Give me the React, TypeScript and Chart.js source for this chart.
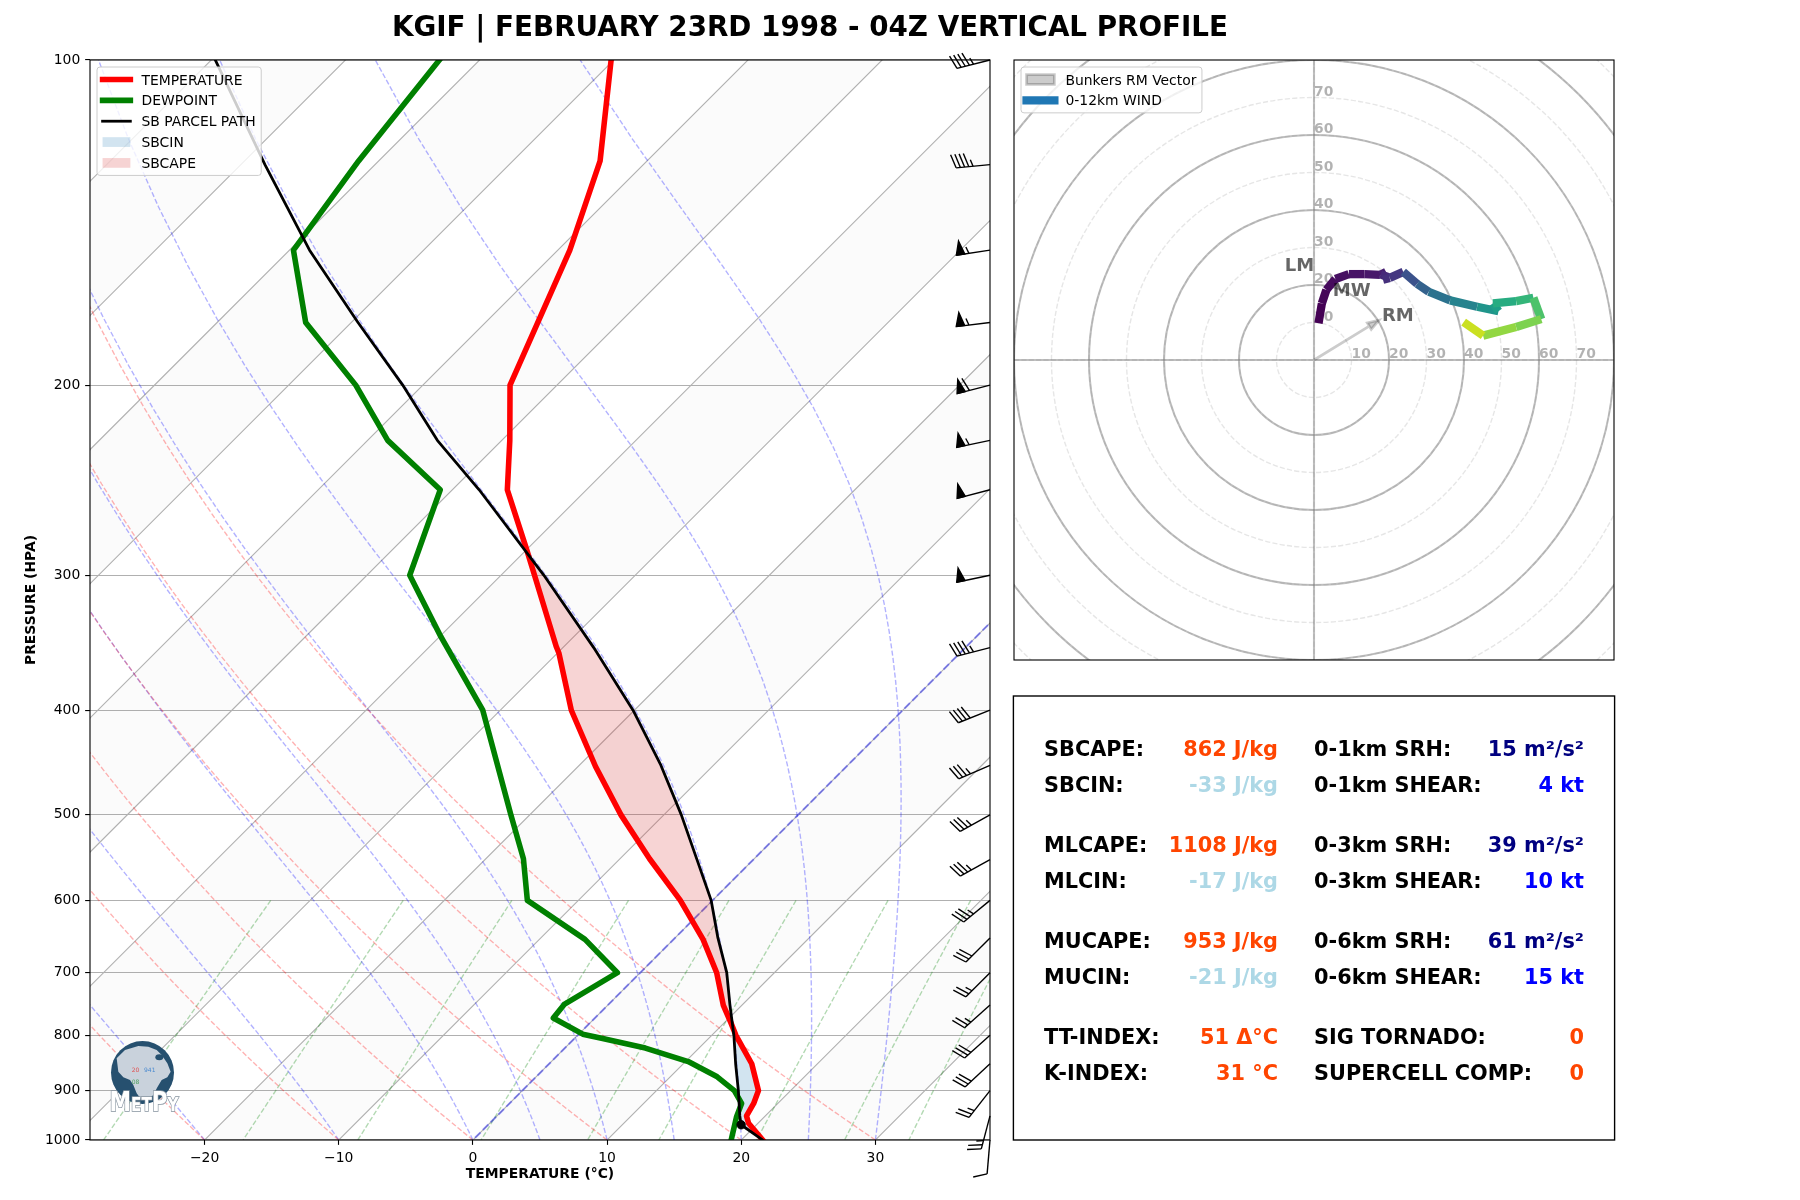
import React, { useEffect, useRef } from 'react';
import { Chart, registerables } from 'chart.js';

Chart.register(...registerables);
Chart.defaults.font.family = '"DejaVu Sans", sans-serif';

// ---------------- DATA ----------------
// Environmental temperature profile (hPa, °C)
const TEMP_P = [1000, 965, 950, 925, 900, 850, 800, 779, 750, 700, 652, 600, 549, 500, 451, 400, 354, 349, 300, 284, 250, 225, 200, 150, 124, 100];
const TEMP_C = [21.6, 19.3, 18.6, 18.2, 17.6, 15.1, 11.8, 10.5, 8.6, 5.7, 2.2, -2.4, -7.8, -13.2, -18.7, -24.7, -29.9, -30.6, -37.5, -40.0, -45.9, -49.4, -53.5, -59.1, -63.5, -70.2];

// Dewpoint profile (hPa, °C)
const DEW_P = [1000, 951, 925, 900, 874, 846, 822, 805, 798, 771, 749, 700, 652, 600, 549, 500, 400, 342, 300, 250, 225, 200, 175, 150, 124, 100];
const DEW_C = [19.25, 17.9, 17.3, 15.8, 13.5, 10.2, 6.0, 2.0, 0.3, -3.1, -3.3, -1.7, -6.6, -13.8, -17.2, -21.4, -31.3, -39.9, -46.8, -50.9, -58.5, -65.0, -73.4, -79.7, -81.5, -83.0];

// Surface-based parcel path (hPa, °C)
const PARCEL_P = [1000, 968, 950, 900, 850, 800, 750, 700, 650, 600, 550, 500, 450, 400, 350, 300, 250, 225, 200, 175, 150, 125, 100];
const PARCEL_C = [21.6, 18.85, 18.1, 16.1, 13.9, 11.65, 9.1, 6.45, 3.2, -0.1, -4.2, -8.7, -13.9, -20.1, -27.7, -36.8, -48.0, -54.8, -61.5, -69.5, -78.5, -88.2, -99.7];

// LCL
const LCL_P = 968;
const LCL_C = 18.85;

// Wind barbs (hPa, kt)
const BARB_P = [100, 125, 150, 175, 200, 225, 250, 300, 350, 400, 450, 500, 550, 600, 650, 700, 750, 800, 850, 900, 950, 1000];
const BARB_U = [43.6, 44.8, 54.4, 54.6, 58.1, 53.8, 48.4, 48.9, 43.6, 37.2, 32.2, 30.6, 30.6, 27.0, 21.2, 17.7, 18.6, 22.4, 22.0, 15.4, 6.4, 0.85];
const BARB_V = [11.0, 4.2, 8.2, 6.6, 15.1, 11.3, 12.6, 10.2, 11.2, 14.7, 13.7, 17.0, 17.0, 22.2, 21.2, 17.7, 16.6, 20.0, 20.4, 19.7, 24.2, 10.0];

// Hodograph 0-12 km wind (kt) and height (km)
const HODO_U = [1.2, 2.1, 3.3, 5.7, 9.3, 13.5, 17.6, 19.2, 18.4, 20.2, 23.8, 27.5, 30.6, 36.3, 43.5, 49.2, 47.7, 53.9, 58.5, 60.6, 53.9, 45.1, 39.9];
const HODO_V = [9.8, 15.1, 18.7, 21.6, 22.9, 22.9, 22.7, 23.5, 21.4, 21.9, 23.5, 20.3, 18.2, 15.9, 14.2, 13.0, 15.1, 15.7, 16.6, 10.9, 8.8, 6.5, 10.1];
const HODO_Z = [0, 0.15, 0.3, 0.45, 0.6, 0.75, 1.0, 1.4, 1.6, 1.9, 3.0, 3.7, 4.5, 5.3, 6.2, 6.7, 7.4, 7.9, 8.6, 9.6, 10.0, 11.0, 12.0];

// Bunkers storm motions (kt)
const STORM_LABELS = ['RM', 'LM', 'MW'];
const STORM_U = [17.6, -8.3, 4.5];
const STORM_V = [10.9, 24.3, 17.7];

// Axis ticks / labels
const PRESSURE_TICKS = [100, 200, 300, 400, 500, 600, 700, 800, 900, 1000];
const TEMP_TICKS = [-20, -10, 0, 10, 20, 30];
const HODO_RING_LABELS = [10, 20, 30, 40, 50, 60, 70];

// Thermodynamic reference lines
const ISOTHERMS = [-110, -100, -90, -80, -70, -60, -50, -40, -30, -20, -10, 0, 10, 20, 30, 40];
const SHADE_X1 = [-100, -80, -60, -40, -20, 0, 20, 40];
const DRY_ADIABAT_T0 = [-20, -10, 0, 10, 20, 30];
const MOIST_ADIABAT_T0 = [-20, -10, 0, 5, 10, 15, 20, 25, 30];
const MIXING_RATIOS = [0.0004, 0.001, 0.002, 0.004, 0.007, 0.01, 0.016, 0.024, 0.032];

// Stats panel
const ORANGE = '#ff4500', LIGHTBLUE = '#add8e6', NAVY = '#000080', BLUE = '#0000ff';
const STAT_LEFT_LABELS = ['SBCAPE:', 'SBCIN:', 'MLCAPE:', 'MLCIN:', 'MUCAPE:', 'MUCIN:', 'TT-INDEX:', 'K-INDEX:'];
const STAT_LEFT_VALUES = ['862 J/kg', '-33 J/kg', '1108 J/kg', '-17 J/kg', '953 J/kg', '-21 J/kg', '51 Δ°C', '31 °C'];
const STAT_LEFT_COLORS = [ORANGE, LIGHTBLUE, ORANGE, LIGHTBLUE, ORANGE, LIGHTBLUE, ORANGE, ORANGE];
const STAT_RIGHT_LABELS = ['0-1km SRH:', '0-1km SHEAR:', '0-3km SRH:', '0-3km SHEAR:', '0-6km SRH:', '0-6km SHEAR:', 'SIG TORNADO:', 'SUPERCELL COMP:'];
const STAT_RIGHT_VALUES = ['15 m²/s²', '4 kt', '39 m²/s²', '10 kt', '61 m²/s²', '15 kt', '0', '0'];
const STAT_RIGHT_COLORS = [NAVY, BLUE, NAVY, BLUE, NAVY, BLUE, ORANGE, ORANGE];
const STAT_ROW_FRAC = [0.37, 0.34, 0.29, 0.26, 0.21, 0.18, 0.13, 0.10];

const TITLE = 'KGIF | FEBRUARY 23RD 1998 - 04Z VERTICAL PROFILE';

// ---------------- helpers ----------------
const PT = 100 / 72;
const GRID_COLOR = '#b0b0b0';
const SKEW_K = 80.5; // °C of skew per decade of pressure (45° rotation)
const X_MIN = 5 - 33.54;
const X_MAX = 5 + 33.54;
const FONT = '"DejaVu Sans", sans-serif';

const skx = (t: number, p: number) => t + SKEW_K * Math.log10(1000 / p);

function linspace(a: number, b: number, n: number) {
  const out: number[] = [];
  for (let i = 0; i < n; i++) out.push(a + ((b - a) * i) / (n - 1));
  return out;
}

function interpLogP(P: number[], V: number[], p: number) {
  for (let i = 0; i < P.length - 1; i++) {
    if (p <= P[i] && p >= P[i + 1]) {
      const f = (Math.log(P[i]) - Math.log(p)) / (Math.log(P[i]) - Math.log(P[i + 1]));
      return V[i] + f * (V[i + 1] - V[i]);
    }
  }
  return NaN;
}

function moistAdiabat(t0c: number, pressures: number[]) {
  const Rd = 287.04749, Cp = 1004.6662, Lv = 2.50084e6, eps = 0.6219569;
  const f = (p: number, tK: number) => {
    const tc = tK - 273.15;
    const es = 6.112 * Math.exp((17.67 * tc) / (tc + 243.5));
    const rs = (eps * es) / (p - es);
    return (Rd * tK + Lv * rs) / (Cp + (Lv * Lv * rs * eps) / (Rd * tK * tK)) / p;
  };
  const out: number[] = [];
  let p = 1000;
  let t = t0c + 273.15;
  for (const target of pressures) {
    while (p - target > 1e-9) {
      const h = -Math.min(2, p - target);
      const k1 = f(p, t);
      const k2 = f(p + h / 2, t + (h / 2) * k1);
      const k3 = f(p + h / 2, t + (h / 2) * k2);
      const k4 = f(p + h, t + h * k3);
      t += (h / 6) * (k1 + 2 * k2 + 2 * k3 + k4);
      p += h;
    }
    out.push(t - 273.15);
  }
  return out;
}

function mixingDewpoint(w: number, p: number) {
  const e = (p * w) / (0.6219569 + w);
  const l = Math.log(e / 6.112);
  return (243.5 * l) / (17.67 - l);
}

const VIRIDIS = ['#440154', '#48186a', '#472d7b', '#424086', '#3b528b', '#33638d', '#2c728e', '#26828e', '#21918c', '#1fa088', '#28ae80', '#3fbc73', '#5ec962', '#84d44b', '#addc30', '#d8e219', '#fde725'];
function viridis(t: number) {
  const n = VIRIDIS.length - 1;
  const x = Math.max(0, Math.min(1, t)) * n;
  const i = Math.min(n - 1, Math.floor(x));
  const f = x - i;
  const a = VIRIDIS[i], b = VIRIDIS[i + 1];
  const c = (s: string, k: number) => parseInt(s.slice(1 + 2 * k, 3 + 2 * k), 16);
  const r = Math.round(c(a, 0) + f * (c(b, 0) - c(a, 0)));
  const g = Math.round(c(a, 1) + f * (c(b, 1) - c(a, 1)));
  const bl = Math.round(c(a, 2) + f * (c(b, 2) - c(a, 2)));
  return `rgb(${r},${g},${bl})`;
}

function lineDS(points: any[], color: string, width: number, dash: number[], order: number, label = '', cap = 'butt') {
  return {
    label,
    data: points,
    showLine: true,
    borderColor: color,
    backgroundColor: color,
    borderWidth: width,
    borderDash: dash,
    pointRadius: 0,
    pointHoverRadius: 0,
    pointHitRadius: 0,
    fill: false,
    order,
    clip: 0,
    tension: 0,
    borderJoinStyle: 'round',
    borderCapStyle: cap,
  };
}

// CAPE / CIN regions
function buildRegions() {
  const levels = Array.from(new Set([...TEMP_P, ...PARCEL_P])).sort((a, b) => b - a);
  const diff = levels.map((p) => interpLogP(PARCEL_P, PARCEL_C, p) - interpLogP(TEMP_P, TEMP_C, p));
  const cross: number[] = [];
  for (let i = 1; i < levels.length - 1; i++) {
    const d0 = diff[i], d1 = diff[i + 1];
    if (d0 * d1 < 0) {
      const f = d0 / (d0 - d1);
      const lp = Math.log(levels[i]) + f * (Math.log(levels[i + 1]) - Math.log(levels[i]));
      cross.push(Math.exp(lp));
    }
  }
  const lfc = cross[0];
  const el = cross[1];
  const seg = (P: number[], C: number[], hi: number, lo: number) => {
    const pts = [{ p: hi, t: interpLogP(P, C, hi) }];
    P.forEach((p, i) => {
      if (p < hi && p > lo) pts.push({ p, t: C[i] });
    });
    pts.push({ p: lo, t: interpLogP(P, C, lo) });
    return pts;
  };
  const cin = [...seg(PARCEL_P, PARCEL_C, 1000, lfc), ...seg(TEMP_P, TEMP_C, 1000, lfc).reverse()];
  const cape = [...seg(PARCEL_P, PARCEL_C, lfc, el), ...seg(TEMP_P, TEMP_C, lfc, el).reverse()];
  return { cin, cape };
}
const REGIONS = buildRegions();

function polyPath(chart: any, ctx: CanvasRenderingContext2D, pts: { x: number; y: number }[]) {
  const xs = chart.scales.x, ys = chart.scales.y;
  ctx.beginPath();
  pts.forEach((pt, i) => {
    const X = xs.getPixelForValue(pt.x);
    const Y = ys.getPixelForValue(pt.y);
    if (i === 0) ctx.moveTo(X, Y);
    else ctx.lineTo(X, Y);
  });
  ctx.closePath();
}

function clipArea(ctx: CanvasRenderingContext2D, a: any) {
  ctx.beginPath();
  ctx.rect(a.left, a.top, a.right - a.left, a.bottom - a.top);
  ctx.clip();
}

const BARB_LEN = 34.03;
function drawBarb(ctx: CanvasRenderingContext2D, x0: number, y0: number, u: number, v: number) {
  const L = BARB_LEN;
  const spacing = 0.125 * L, fh = 0.4 * L, fw = 0.25 * L;
  const spd = Math.hypot(u, v);
  let mag = 5 * Math.round(spd / 5);
  const nflags = Math.floor(mag / 50);
  mag -= nflags * 50;
  const nbarbs = Math.floor(mag / 10);
  mag -= nbarbs * 10;
  const half = mag >= 5;
  const dx = -u / spd, dy = v / spd;
  const nx = -v / spd, ny = -u / spd;
  const pt = (s: number, h: number): [number, number] => [x0 + dx * s + nx * h, y0 + dy * s + ny * h];
  ctx.beginPath();
  ctx.moveTo(x0, y0);
  const e = pt(L, 0);
  ctx.lineTo(e[0], e[1]);
  ctx.stroke();
  let offset = L;
  for (let i = 0; i < nflags; i++) {
    if (offset !== L) offset += spacing / 2;
    const a = pt(offset, 0), b = pt(offset - fw / 2, fh), c = pt(offset - fw, 0);
    ctx.beginPath();
    ctx.moveTo(a[0], a[1]);
    ctx.lineTo(b[0], b[1]);
    ctx.lineTo(c[0], c[1]);
    ctx.closePath();
    ctx.fill();
    ctx.stroke();
    offset -= fw + spacing;
  }
  for (let i = 0; i < nbarbs; i++) {
    const a = pt(offset, 0), b = pt(offset + fw / 2, fh);
    ctx.beginPath();
    ctx.moveTo(a[0], a[1]);
    ctx.lineTo(b[0], b[1]);
    ctx.stroke();
    offset -= spacing;
  }
  if (half) {
    if (offset === L) offset -= 1.5 * spacing;
    const a = pt(offset, 0), b = pt(offset + fw / 4, fh / 2);
    ctx.beginPath();
    ctx.moveTo(a[0], a[1]);
    ctx.lineTo(b[0], b[1]);
    ctx.stroke();
  }
}

function roundRect(ctx: CanvasRenderingContext2D, x: number, y: number, w: number, h: number, r: number) {
  ctx.beginPath();
  ctx.moveTo(x + r, y);
  ctx.lineTo(x + w - r, y);
  ctx.arcTo(x + w, y, x + w, y + r, r);
  ctx.lineTo(x + w, y + h - r);
  ctx.arcTo(x + w, y + h, x + w - r, y + h, r);
  ctx.lineTo(x + r, y + h);
  ctx.arcTo(x, y + h, x, y + h - r, r);
  ctx.lineTo(x, y + r);
  ctx.arcTo(x, y, x + r, y, r);
  ctx.closePath();
}

type Handle = { kind: 'line' | 'patch'; color: string; width?: number; edge?: string; edgeWidth?: number };
function drawLegend(ctx: CanvasRenderingContext2D, x0: number, y0: number, labels: string[], handles: Handle[]) {
  const fs = 13.9;
  ctx.save();
  ctx.font = `${fs}px ${FONT}`;
  const pad = 0.4 * fs, hl = 2 * fs, htp = 0.8 * fs, ls = 0.5 * fs;
  const maxW = Math.max(...labels.map((l) => ctx.measureText(l).width));
  const w = pad + hl + htp + maxW + pad;
  const h = 2 * pad + labels.length * fs + (labels.length - 1) * ls;
  roundRect(ctx, x0, y0, w, h, 3);
  ctx.fillStyle = 'rgba(255,255,255,0.8)';
  ctx.fill();
  ctx.strokeStyle = '#cccccc';
  ctx.lineWidth = 1;
  ctx.stroke();
  labels.forEach((l, i) => {
    const cy = y0 + pad + fs / 2 + i * (fs + ls);
    const hx = x0 + pad;
    const hd = handles[i];
    if (hd.kind === 'line') {
      ctx.beginPath();
      ctx.moveTo(hx, cy);
      ctx.lineTo(hx + hl, cy);
      ctx.strokeStyle = hd.color;
      ctx.lineWidth = hd.width || 1;
      ctx.lineCap = 'square';
      ctx.stroke();
      ctx.lineCap = 'butt';
    } else {
      const ph = 0.7 * fs;
      ctx.fillStyle = hd.color;
      ctx.fillRect(hx, cy - ph / 2, hl, ph);
      if (hd.edge) {
        ctx.strokeStyle = hd.edge;
        ctx.lineWidth = hd.edgeWidth || 1;
        ctx.strokeRect(hx, cy - ph / 2, hl, ph);
      }
    }
    ctx.fillStyle = '#000';
    ctx.textAlign = 'left';
    ctx.textBaseline = 'alphabetic';
    ctx.fillText(l, hx + hl + htp, cy + 0.36 * fs);
  });
  ctx.restore();
}

function drawLogo(ctx: CanvasRenderingContext2D) {
  const cx = 142.5, cy = 1072.5, r = 31.5;
  const Z = (zx: number, zy: number): [number, number] => [80 + zx / 3, 1000 + zy / 3];
  ctx.save();
  ctx.beginPath();
  ctx.arc(cx, cy, r, 0, Math.PI * 2);
  ctx.fillStyle = '#26506f';
  ctx.fill();
  ctx.save();
  ctx.clip();
  const land: [number, number][] = [
    [110, 175], [135, 150], [175, 138], [205, 140], [230, 150], [245, 165], [262, 190], [272, 215], [262, 232],
    [245, 240], [232, 262], [220, 285], [205, 298], [185, 300], [170, 280], [160, 255], [150, 240], [130, 232], [115, 215],
  ];
  ctx.beginPath();
  land.forEach((q, i) => {
    const [X, Y] = Z(q[0], q[1]);
    if (i === 0) ctx.moveTo(X, Y);
    else ctx.lineTo(X, Y);
  });
  ctx.closePath();
  ctx.fillStyle = '#c9d2dc';
  ctx.fill();
  ctx.fillStyle = '#26506f';
  ctx.beginPath();
  const [lx, ly] = Z(238, 172);
  ctx.ellipse(lx, ly, 4, 3, 0, 0, Math.PI * 2);
  ctx.fill();
  ctx.font = `6px ${FONT}`;
  ctx.fillStyle = '#e05050';
  ctx.fillText('20', Z(155, 215)[0], Z(155, 215)[1]);
  ctx.fillStyle = '#4a8ad0';
  ctx.fillText('941', Z(192, 215)[0], Z(192, 215)[1]);
  ctx.fillStyle = '#50a060';
  ctx.fillText('08', Z(155, 252)[0], Z(155, 252)[1]);
  ctx.restore();
  // MetPy word mark
  ctx.translate(109.5, 1111);
  ctx.scale(0.8, 1);
  ctx.lineWidth = 1.6;
  ctx.strokeStyle = '#8794a0';
  ctx.fillStyle = '#ffffff';
  ctx.textBaseline = 'alphabetic';
  ctx.textAlign = 'left';
  let x = 0;
  const parts: [string, number][] = [['M', 27], ['ET', 19], ['P', 27], ['Y', 19]];
  parts.forEach(([s, size]) => {
    ctx.font = `bold ${size}px ${FONT}`;
    ctx.strokeText(s, x, 0);
    ctx.fillText(s, x, 0);
    x += ctx.measureText(s).width;
  });
  ctx.restore();
}

// ---------------- Skew-T plugin ----------------
const skewPlugin = {
  id: 'skewExtras',
  beforeDatasetsDraw(chart: any) {
    const { ctx, chartArea: a } = chart;
    ctx.save();
    clipArea(ctx, a);
    ctx.fillStyle = 'rgba(128,128,128,0.03)';
    SHADE_X1.forEach((x1) => {
      const x2 = x1 + 10;
      polyPath(chart, ctx, [
        { x: skx(x1, 1100), y: 1100 },
        { x: skx(x1, 50), y: 50 },
        { x: skx(x2, 50), y: 50 },
        { x: skx(x2, 1100), y: 1100 },
      ]);
      ctx.fill();
    });
    ctx.restore();
  },
  beforeDatasetDraw(chart: any, args: any) {
    const ds = chart.data.datasets[args.index];
    if (ds.label !== 'TEMPERATURE') return;
    const { ctx, chartArea: a } = chart;
    ctx.save();
    clipArea(ctx, a);
    ctx.fillStyle = 'rgba(31,119,180,0.2)';
    polyPath(chart, ctx, REGIONS.cin.map((q) => ({ x: skx(q.t, q.p), y: q.p })));
    ctx.fill();
    ctx.fillStyle = 'rgba(214,39,40,0.2)';
    polyPath(chart, ctx, REGIONS.cape.map((q) => ({ x: skx(q.t, q.p), y: q.p })));
    ctx.fill();
    ctx.restore();
  },
  afterDatasetsDraw(chart: any) {
    const { ctx, chartArea: a, scales } = chart;
    ctx.save();
    // spines
    ctx.strokeStyle = '#000';
    ctx.lineWidth = 0.8 * PT;
    ctx.strokeRect(a.left, a.top, a.right - a.left, a.bottom - a.top);
    // wind barbs
    ctx.lineWidth = PT;
    ctx.strokeStyle = '#000';
    ctx.fillStyle = '#000';
    ctx.lineJoin = 'miter';
    BARB_P.forEach((p, i) => {
      drawBarb(ctx, a.right, scales.y.getPixelForValue(p), BARB_U[i], BARB_V[i]);
    });
    ctx.restore();
    drawLegend(ctx, a.left + 7, a.top + 7, ['TEMPERATURE', 'DEWPOINT', 'SB PARCEL PATH', 'SBCIN', 'SBCAPE'], [
      { kind: 'line', color: '#ff0000', width: 4 * PT },
      { kind: 'line', color: '#008000', width: 4 * PT },
      { kind: 'line', color: '#000000', width: 2 * PT },
      { kind: 'patch', color: 'rgba(31,119,180,0.2)' },
      { kind: 'patch', color: 'rgba(214,39,40,0.2)' },
    ]);
    drawLogo(ctx);
  },
};

function skewConfig(): any {
  const datasets: any[] = [];
  // isotherm grid
  ISOTHERMS.forEach((t) => {
    datasets.push(lineDS([{ x: skx(t, 1100), y: 1100 }, { x: skx(t, 90), y: 90 }], GRID_COLOR, 0.8 * PT, [], 30));
  });
  const pAll = linspace(1000, 100, 50);
  const dash1 = [3.7 * PT, 1.6 * PT];
  // dry adiabats
  DRY_ADIABAT_T0.forEach((t0) => {
    const pts = pAll.map((p) => {
      const t = (t0 + 273.15) * Math.pow(p / 1000, 0.28571) - 273.15;
      return { x: skx(t, p), y: p };
    });
    datasets.push(lineDS(pts, 'rgba(255,0,0,0.3)', PT, dash1, 20));
  });
  // moist adiabats
  MOIST_ADIABAT_T0.forEach((t0) => {
    const ts = moistAdiabat(t0, pAll);
    datasets.push(lineDS(pAll.map((p, i) => ({ x: skx(ts[i], p), y: p })), 'rgba(0,0,255,0.3)', PT, dash1, 20));
  });
  // mixing ratio lines
  const pMix = linspace(600, 1000, 50);
  MIXING_RATIOS.forEach((w) => {
    datasets.push(lineDS(pMix.map((p) => ({ x: skx(mixingDewpoint(w, p), p), y: p })), 'rgba(0,128,0,0.3)', PT, dash1, 20));
  });
  // 0 °C isotherm
  datasets.push(lineDS([{ x: skx(0, 1100), y: 1100 }, { x: skx(0, 50), y: 50 }], 'rgba(0,0,255,0.38)', 1.5 * PT, [3.7 * 1.5 * PT, 1.6 * 1.5 * PT], 15));
  // profiles
  datasets.push(lineDS(TEMP_P.map((p, i) => ({ x: skx(TEMP_C[i], p), y: p })), '#ff0000', 4 * PT, [], 3, 'TEMPERATURE', 'square'));
  datasets.push(lineDS(DEW_P.map((p, i) => ({ x: skx(DEW_C[i], p), y: p })), '#008000', 4 * PT, [], 2, 'DEWPOINT', 'square'));
  datasets.push(lineDS(PARCEL_P.map((p, i) => ({ x: skx(PARCEL_C[i], p), y: p })), '#000000', 2 * PT, [], 1, 'SB PARCEL PATH', 'square'));
  datasets.push({
    label: 'LCL',
    data: [{ x: skx(LCL_C, LCL_P), y: LCL_P }],
    showLine: false,
    pointRadius: 4.2,
    pointBackgroundColor: '#000',
    pointBorderColor: '#000',
    pointBorderWidth: 1,
    order: 0,
  });

  return {
    type: 'scatter',
    data: { datasets },
    options: {
      responsive: false,
      animation: false,
      devicePixelRatio: 1,
      events: [],
      layout: { padding: { left: 0, top: 60, right: 20, bottom: 0 } },
      scales: {
        x: {
          type: 'linear',
          min: X_MIN,
          max: X_MAX,
          afterFit: (s: any) => {
            s.height = 60;
          },
          afterBuildTicks: (s: any) => {
            s.ticks = TEMP_TICKS.map((v) => ({ value: v }));
          },
          ticks: {
            autoSkip: false,
            maxRotation: 0,
            padding: 3.5 * PT,
            color: '#000',
            font: { size: 13.9 },
            callback: (v: number) => (v < 0 ? '\u2212' + Math.abs(v) : String(v)),
          },
          grid: { display: true, drawOnChartArea: false, drawTicks: true, tickLength: 3.5 * PT, tickColor: '#000', tickWidth: 0.8 * PT },
          border: { display: false },
          title: { display: true, text: 'TEMPERATURE (°C)', color: '#000', font: { size: 13.9, weight: 'bold' }, padding: { top: 0, bottom: 17.2 } },
        },
        y: {
          type: 'logarithmic',
          position: 'left',
          reverse: true,
          min: 100,
          max: 1000,
          afterFit: (s: any) => {
            s.width = 90;
          },
          afterBuildTicks: (s: any) => {
            s.ticks = PRESSURE_TICKS.map((v) => ({ value: v }));
          },
          ticks: { autoSkip: false, padding: 3.5 * PT, color: '#000', font: { size: 13.9 }, callback: (v: number) => String(v) },
          grid: { color: GRID_COLOR, lineWidth: 0.8 * PT, drawTicks: true, tickLength: 3.5 * PT, tickColor: '#000', tickWidth: 0.8 * PT },
          border: { display: false },
          title: { display: true, text: 'PRESSURE (HPA)', color: '#000', font: { size: 13.9, weight: 'bold' }, padding: { top: 22.7, bottom: 0 } },
        },
      },
      plugins: { legend: { display: false }, tooltip: { enabled: false }, title: { display: false } },
    },
    plugins: [skewPlugin],
  };
}

// ---------------- Hodograph ----------------
const HODO_RANGE = 80;
const hodoPlugin = {
  id: 'hodoExtras',
  beforeDatasetsDraw(chart: any) {
    const { ctx, chartArea: a, scales } = chart;
    const xs = scales.x, ys = scales.y;
    const cx = xs.getPixelForValue(0), cy = ys.getPixelForValue(0);
    const k = xs.getPixelForValue(1) - cx;
    ctx.save();
    clipArea(ctx, a);
    // labels
    ctx.font = `bold 13.9px ${FONT}`;
    ctx.fillStyle = 'rgba(0,0,0,0.3)';
    ctx.textAlign = 'left';
    ctx.textBaseline = 'alphabetic';
    HODO_RING_LABELS.forEach((v) => {
      ctx.fillText(String(v), xs.getPixelForValue(v), cy - 2);
      ctx.fillText(String(v), cx, ys.getPixelForValue(v) - 2);
    });
    // solid rings
    ctx.strokeStyle = 'rgba(128,128,128,0.5)';
    ctx.lineWidth = 1.5 * PT;
    for (let r = 20; r < 2 * HODO_RANGE; r += 20) {
      ctx.beginPath();
      ctx.arc(cx, cy, r * k, 0, Math.PI * 2);
      ctx.stroke();
    }
    // dashed rings
    ctx.strokeStyle = 'rgba(128,128,128,0.2)';
    ctx.lineWidth = PT;
    ctx.setLineDash([3.7 * PT, 1.6 * PT]);
    for (let r = 10; r < 2 * HODO_RANGE; r += 10) {
      ctx.beginPath();
      ctx.arc(cx, cy, r * k, 0, Math.PI * 2);
      ctx.stroke();
    }
    ctx.setLineDash([]);
    // axis lines (solid then dashed)
    ctx.strokeStyle = 'rgba(128,128,128,0.5)';
    ctx.lineWidth = 1.5 * PT;
    ctx.beginPath();
    ctx.moveTo(cx, a.top);
    ctx.lineTo(cx, a.bottom);
    ctx.moveTo(a.left, cy);
    ctx.lineTo(a.right, cy);
    ctx.stroke();
    ctx.strokeStyle = 'rgba(128,128,128,0.2)';
    ctx.lineWidth = PT;
    ctx.setLineDash([3.7 * PT, 1.6 * PT]);
    ctx.beginPath();
    ctx.moveTo(cx, a.top);
    ctx.lineTo(cx, a.bottom);
    ctx.moveTo(a.left, cy);
    ctx.lineTo(a.right, cy);
    ctx.stroke();
    ctx.setLineDash([]);
    // Bunkers RM arrow
    const ex = xs.getPixelForValue(STORM_U[0] - 0.3), ey = ys.getPixelForValue(STORM_V[0] - 0.3);
    const len = Math.hypot(ex - cx, ey - cy);
    const dx = (ex - cx) / len, dy = (ey - cy) / len;
    const hlen = 3 * k, hw = 1 * k;
    const bx = ex - dx * hlen, by = ey - dy * hlen;
    ctx.fillStyle = 'rgba(0,0,0,0.2)';
    ctx.strokeStyle = 'rgba(0,0,0,0.2)';
    ctx.lineWidth = 2 * PT;
    ctx.lineJoin = 'miter';
    ctx.beginPath();
    ctx.moveTo(cx, cy);
    ctx.lineTo(bx, by);
    ctx.lineTo(bx - dy * hw, by + dx * hw);
    ctx.lineTo(ex, ey);
    ctx.lineTo(bx + dy * hw, by - dx * hw);
    ctx.lineTo(bx, by);
    ctx.closePath();
    ctx.fill();
    ctx.stroke();
    ctx.restore();
  },
  afterDatasetsDraw(chart: any) {
    const { ctx, chartArea: a, scales } = chart;
    ctx.save();
    clipArea(ctx, a);
    ctx.font = `bold ${13 * PT}px ${FONT}`;
    ctx.fillStyle = 'rgba(0,0,0,0.6)';
    ctx.textAlign = 'left';
    ctx.textBaseline = 'alphabetic';
    STORM_LABELS.forEach((l, i) => {
      ctx.fillText(l, scales.x.getPixelForValue(STORM_U[i] + 0.5), scales.y.getPixelForValue(STORM_V[i] - 0.5));
    });
    ctx.restore();
    ctx.save();
    ctx.strokeStyle = '#000';
    ctx.lineWidth = 0.8 * PT;
    ctx.strokeRect(a.left, a.top, a.right - a.left, a.bottom - a.top);
    ctx.restore();
    drawLegend(ctx, a.left + 7, a.top + 7, ['Bunkers RM Vector', '0-12km WIND'], [
      { kind: 'patch', color: 'rgba(0,0,0,0.2)', edge: 'rgba(0,0,0,0.2)', edgeWidth: 2 * PT },
      { kind: 'line', color: '#1f77b4', width: 6 * PT },
    ]);
  },
};

function hodoConfig(): any {
  const zmax = Math.max(...HODO_Z);
  return {
    type: 'scatter',
    data: {
      datasets: [
        {
          label: '0-12km WIND',
          data: HODO_U.map((u, i) => ({ x: u, y: HODO_V[i] })),
          showLine: true,
          borderWidth: 6 * PT,
          borderColor: viridis(0),
          pointRadius: 0,
          pointHoverRadius: 0,
          borderCapStyle: 'butt',
          borderJoinStyle: 'miter',
          clip: 0,
          segment: {
            borderColor: (c: any) => viridis(HODO_Z[c.p0DataIndex] / zmax),
          },
        },
      ],
    },
    options: {
      responsive: false,
      animation: false,
      devicePixelRatio: 1,
      events: [],
      layout: { padding: { left: 4, top: 10, right: 16, bottom: 10 } },
      scales: {
        x: { type: 'linear', min: -HODO_RANGE, max: HODO_RANGE, display: false },
        y: { type: 'linear', min: -HODO_RANGE, max: HODO_RANGE, display: false },
      },
      plugins: { legend: { display: false }, tooltip: { enabled: false } },
    },
    plugins: [hodoPlugin],
  };
}

export default function App() {
  const skewRef = useRef<HTMLCanvasElement>(null);
  const hodoRef = useRef<HTMLCanvasElement>(null);
  useEffect(() => {
    document.body.style.margin = '0';
    const c1 = new Chart(skewRef.current as HTMLCanvasElement, skewConfig());
    const c2 = new Chart(hodoRef.current as HTMLCanvasElement, hodoConfig());
    return () => {
      c1.destroy();
      c2.destroy();
    };
  }, []);
  const textStyle = { fontFamily: FONT, fontWeight: 'bold' as const, fontSize: 15 * PT };
  return (
    <div style={{ position: 'relative', width: 1800, height: 1200, background: '#ffffff', overflow: 'hidden' }}>
      <canvas ref={skewRef} width={1010} height={1200} style={{ position: 'absolute', left: 0, top: 0, width: 1010, height: 1200 }} />
      <canvas ref={hodoRef} width={620} height={620} style={{ position: 'absolute', left: 1010, top: 50, width: 620, height: 620 }} />
      <svg width={1800} height={1200} style={{ position: 'absolute', left: 0, top: 0, pointerEvents: 'none' }}>
        <text x={810} y={36} textAnchor="middle" style={{ fontFamily: FONT, fontWeight: 'bold', fontSize: 20 * PT }}>
          {TITLE}
        </text>
        <rect x={1013.4} y={696} width={601.2} height={444} fill="#ffffff" stroke="#000" strokeWidth={PT} />
        {STAT_ROW_FRAC.map((f, i) => {
          const y = 1200 * (1 - f);
          return (
            <g key={i}>
              <text x={0.58 * 1800} y={y} textAnchor="start" fill="#000" style={textStyle}>
                {STAT_LEFT_LABELS[i]}
              </text>
              <text x={0.71 * 1800} y={y} textAnchor="end" fill={STAT_LEFT_COLORS[i]} style={textStyle}>
                {STAT_LEFT_VALUES[i]}
              </text>
              <text x={0.73 * 1800} y={y} textAnchor="start" fill="#000" style={textStyle}>
                {STAT_RIGHT_LABELS[i]}
              </text>
              <text x={0.88 * 1800} y={y} textAnchor="end" fill={STAT_RIGHT_COLORS[i]} style={textStyle}>
                {STAT_RIGHT_VALUES[i]}
              </text>
            </g>
          );
        })}
      </svg>
    </div>
  );
}
